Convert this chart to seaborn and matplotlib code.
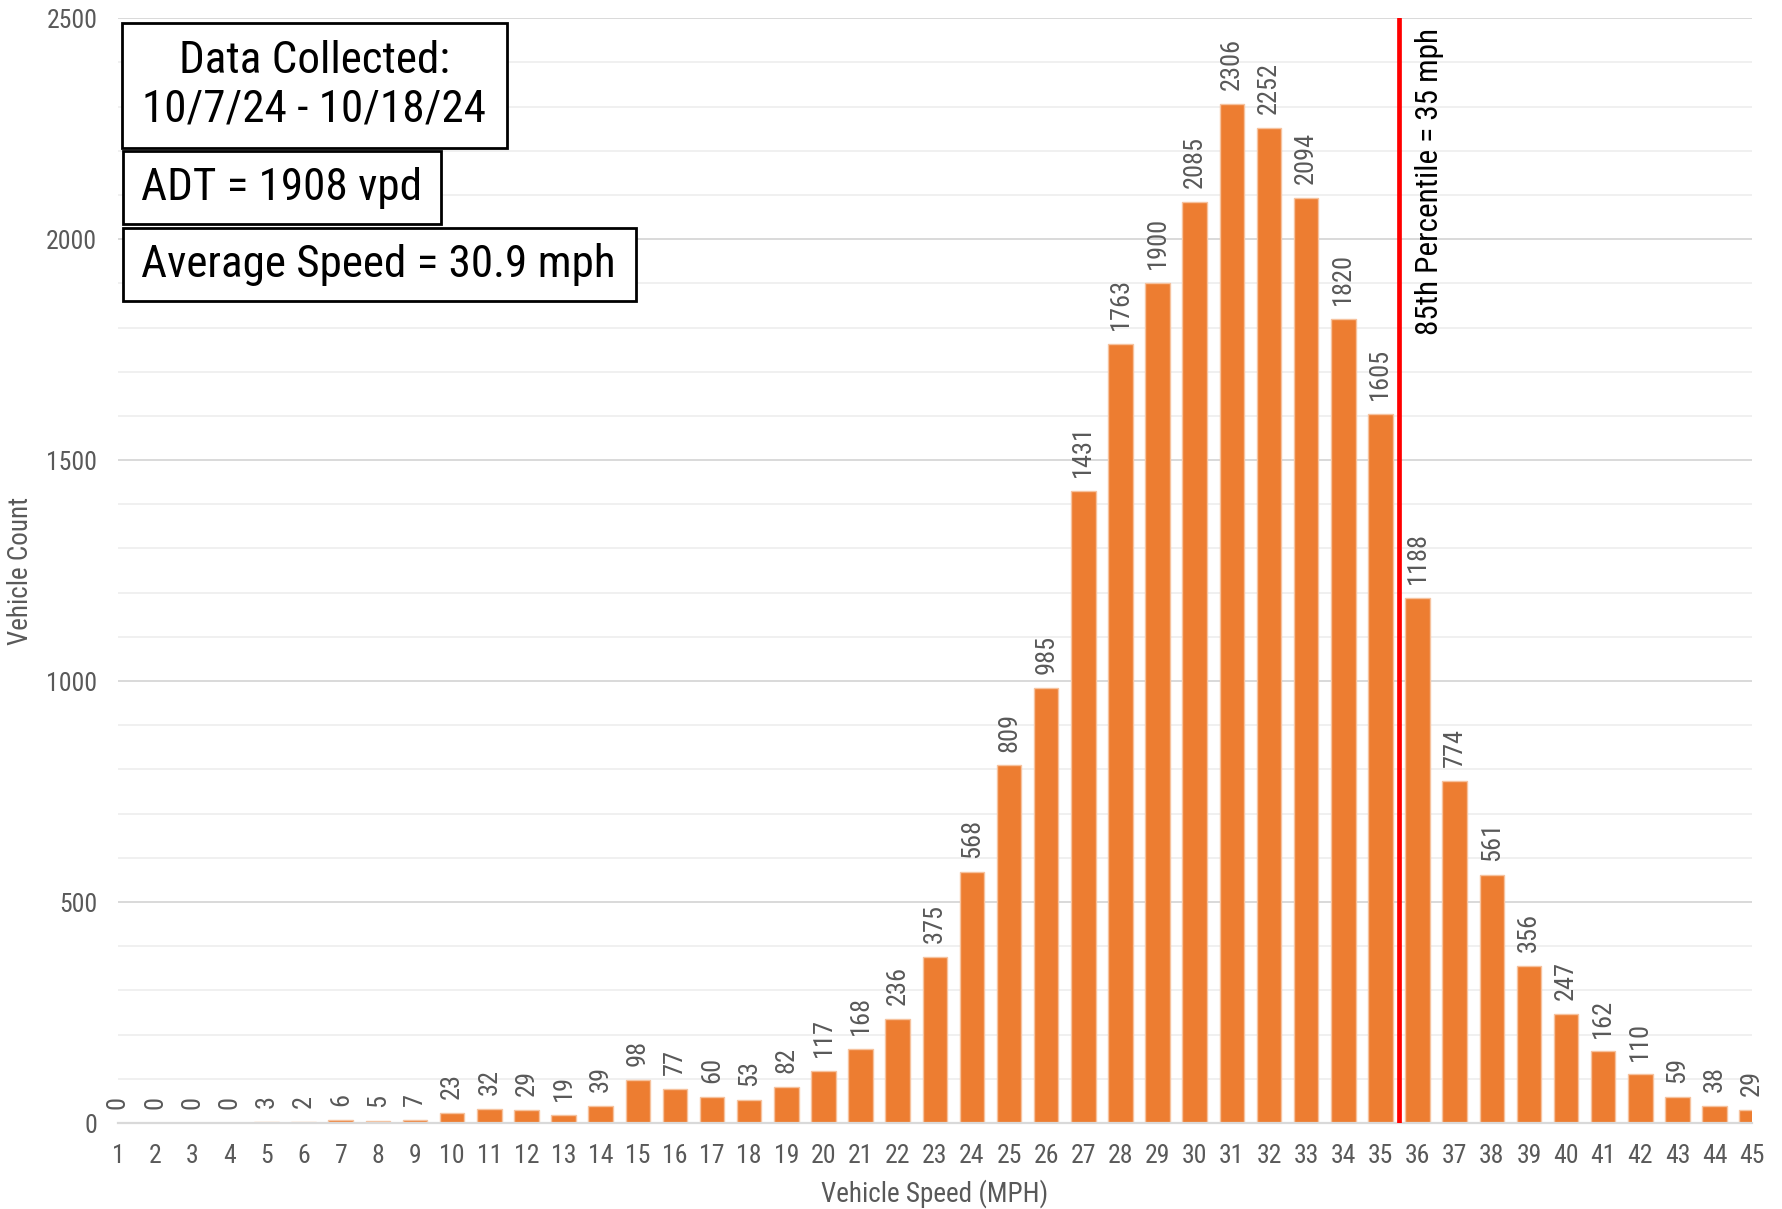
import matplotlib
matplotlib.use("Agg")
import matplotlib.pyplot as plt
import seaborn as sns
from matplotlib import font_manager
from matplotlib.patches import Rectangle
from matplotlib.ticker import MultipleLocator

# speed bins (mph) and vehicle counts
speeds = list(range(1, 46))
counts = [0, 0, 0, 0, 3, 2, 6, 5, 7, 23,
          32, 29, 19, 39, 98, 77, 60, 53, 82, 117,
          168, 236, 375, 568, 809, 985, 1431, 1763, 1900, 2085,
          2306, 2252, 2094, 1820, 1605, 1188, 774, 561, 356, 247,
          162, 110, 59, 38, 29]
p85_line = 35.5
p85_text = "85th Percentile = 35 mph"
info_date = "Data Collected:\n10/7/24 - 10/18/24"
info_adt = "ADT = 1908 vpd"
info_avg = "Average Speed = 30.9 mph"

sns.set_style("white")
installed = {f.name for f in font_manager.fontManager.ttflist}
narrow = [n for n in ["Roboto Condensed", "Liberation Sans Narrow", "Open Sans Condensed"] if n in installed]
plt.rcParams["font.family"] = narrow + ["Roboto", "DejaVu Sans"]

orange = "#ED7D31"
grey = "#595959"

fig, ax = plt.subplots(figsize=(17.82, 12.09), dpi=100)
fig.subplots_adjust(left=0.0662, right=0.983, bottom=0.0711, top=0.985)

sns.barplot(x=speeds, y=counts, native_scale=True, width=0.66,
            color=orange, saturation=1, errorbar=None,
            edgecolor="#f6c29e", linewidth=1, ax=ax)

ax.bar_label(ax.containers[0], labels=[str(c) for c in counts],
             rotation=90, padding=10, color=grey, fontsize=19)

ax.set_xlim(speeds[0], speeds[-1])
ax.set_ylim(0, 2500)
ax.set_xticks(speeds)
ax.set_xticklabels([str(s) for s in speeds])
ax.set_yticks(range(0, 2501, 500))
ax.yaxis.set_minor_locator(MultipleLocator(100))

ax.set_axisbelow(True)
ax.grid(which="major", axis="y", color="#d9d9d9", lw=1.4)
ax.grid(which="minor", axis="y", color="#f0f0f0", lw=1.4)
ax.grid(which="both", axis="x", visible=False)

for side in ["top", "right", "left"]:
    ax.spines[side].set_visible(False)
ax.spines["bottom"].set_color("#d9d9d9")
ax.spines["bottom"].set_linewidth(1.6)

ax.tick_params(axis="y", which="both", length=0, labelsize=18.5, labelcolor=grey, pad=15)
ax.tick_params(axis="x", length=7, width=1.4, color="#d9d9d9", labelsize=18.5,
               labelcolor=grey, pad=8)

ax.set_xlabel("Vehicle Speed (MPH)", fontsize=19.5, color=grey, labelpad=8)
ax.set_ylabel("Vehicle Count", fontsize=19.5, color=grey, labelpad=9)

# 85th percentile marker
ax.axvline(p85_line, color="red", lw=3.4, zorder=3)
ax.annotate(p85_text, xy=(p85_line, 2500), xytext=(22, -7),
            textcoords="offset points", rotation=90, ha="center", va="top",
            fontsize=22.5, color="black")

# info boxes (axes fraction: x0, y0, x1, y1) with centred text
boxes = [
    ((0.0024, 0.8824, 0.2380, 0.9955), info_date, 0.120, 0.939),
    ((0.0031, 0.8136, 0.1977, 0.8796), info_adt, 0.1004, 0.8466),
    ((0.0031, 0.7439, 0.3170, 0.8100), info_avg, 0.1595, 0.777),
]
for (x0, y0, x1, y1), txt, tx, ty in boxes:
    ax.add_patch(Rectangle((x0, y0), x1 - x0, y1 - y0, transform=ax.transAxes,
                           facecolor="white", edgecolor="black", lw=2,
                           clip_on=False, zorder=5))
    ax.text(tx, ty, txt, transform=ax.transAxes, ha="center", va="center",
            fontsize=32.5, linespacing=1.2, color="black", zorder=6)

plt.savefig("out.png", dpi=100)
